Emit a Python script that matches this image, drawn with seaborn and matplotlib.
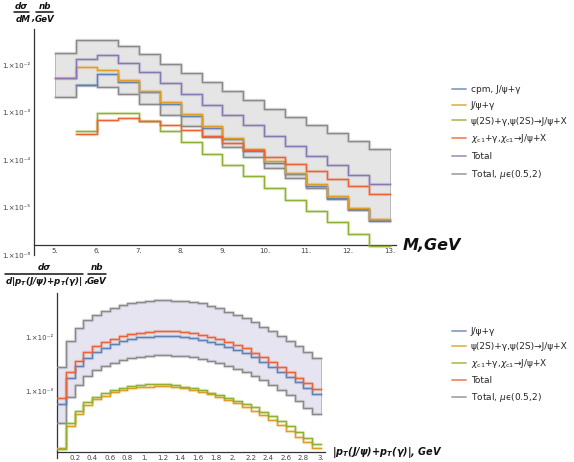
import numpy as np
import pandas as pd
import matplotlib
matplotlib.use("Agg")
import matplotlib.pyplot as plt
import matplotlib.ticker as mticker
import matplotlib.patheffects as pe
from matplotlib.lines import Line2D
import seaborn as sns

sns.set_theme(style="white")
plt.rcParams['font.family'] = ['DejaVu Sans']
plt.rcParams['mathtext.fontset'] = 'custom'
plt.rcParams['mathtext.rm'] = 'DejaVu Sans'
plt.rcParams['mathtext.it'] = 'DejaVu Sans:italic'
plt.rcParams['mathtext.bf'] = 'DejaVu Sans:bold:italic'

nan = np.nan
# ---------------- top panel: d sigma / dM ----------------
m_edges = [5.0, 5.5, 6.0, 6.5, 7.0, 7.5, 8.0, 8.5, 9.0, 9.5, 10.0, 10.5, 11.0, 11.5, 12.0, 12.5, 13.0]
m_cpm = [nan, 3.79e-3, 6.68e-3, 4.38e-3, 2.69e-3, 1.50e-3, 8.5e-4, 4.85e-4, 2.84e-4, 1.53e-4,
         8.56e-5, 5.09e-5, 2.84e-5, 1.59e-5, 9.16e-6, 5.12e-6]
m_jpsi = [5.50e-3, 9.21e-3, 7.84e-3, 4.99e-3, 2.87e-3, 1.68e-3, 9.39e-4, 5.24e-4, 2.99e-4, 1.69e-4,
          9.43e-5, 5.45e-5, 3.09e-5, 1.78e-5, 9.95e-6, 5.83e-6]
m_psi2s = [nan, 4.05e-4, 1.005e-3, 9.71e-4, 6.75e-4, 4.15e-4, 2.46e-4, 1.37e-4, 7.77e-5, 4.62e-5,
           2.58e-5, 1.47e-5, 8.31e-6, 4.94e-6, 2.72e-6, 1.56e-6]
m_chic1 = [nan, 3.59e-4, 7.08e-4, 7.81e-4, 6.81e-4, 5.50e-4, 4.25e-4, 3.23e-4, 2.30e-4, 1.67e-4,
           1.19e-4, 8.27e-5, 5.80e-5, 4.07e-5, 2.80e-5, 1.90e-5]
m_total = [5.50e-3, 1.358e-2, 1.626e-2, 1.118e-2, 7.12e-3, 4.23e-3, 2.53e-3, 1.482e-3, 8.81e-4, 5.42e-4,
           3.29e-4, 1.974e-4, 1.244e-4, 7.77e-5, 4.94e-5, 3.09e-5]
m_total_hi = [1.82e-2, 3.37e-2, 3.37e-2, 2.55e-2, 1.71e-2, 1.086e-2, 6.88e-3, 4.44e-3, 2.86e-3, 1.83e-3,
              1.22e-3, 8.08e-4, 5.42e-4, 3.71e-4, 2.53e-4, 1.75e-4]
m_total_lo = [2.14e-3, 3.79e-3, 3.49e-3, 2.45e-3, 1.50e-3, 8.81e-4, 5.17e-4, 3.13e-4, 1.89e-4, 1.16e-4,
              6.95e-5, 4.19e-5, 2.58e-5, 1.54e-5, 9.03e-6, 5.37e-6]
m_ticks = [5, 6, 7, 8, 9, 10, 11, 12, 13]
m_ticklabels = ["5.", "6.", "7.", "8.", "9.", "10.", "11.", "12.", "13."]
top_labels = ["cpm, J/ψ+γ", "J/ψ+γ", "ψ(2S)+γ,ψ(2S)→J/ψ+X",
              r"$\chi_{\rm c1}$+γ,$\chi_{\rm c1}$→J/ψ+X", "Total", r"Total, $\mu$ϵ(0.5,2)"]

# ---------------- bottom panel: d sigma / d|pT| ----------------
pt_edges = [0.0, 0.1, 0.2, 0.3, 0.4, 0.5, 0.6, 0.7, 0.8, 0.9, 1.0, 1.1, 1.2, 1.3, 1.4, 1.5,
            1.6, 1.7, 1.8, 1.9, 2.0, 2.1, 2.2, 2.3, 2.4, 2.5, 2.6, 2.7, 2.8, 2.9, 3.0]
pt_jpsi = [5.97e-4, 1.774e-3, 2.97e-3, 4.21e-3, 5.41e-3, 6.38e-3, 7.46e-3, 8.45e-3, 9.20e-3, 9.88e-3,
           1.012e-2, 1.042e-2, 1.042e-2, 1.030e-2, 1.012e-2, 9.46e-3, 8.82e-3, 8.21e-3, 7.36e-3, 6.58e-3,
           5.81e-3, 5.06e-3, 4.28e-3, 3.56e-3, 2.88e-3, 2.34e-3, 1.897e-3, 1.50e-3, 1.167e-3, 9.08e-4]
pt_psi2s = [9.4e-5, 2.36e-4, 4.03e-4, 5.87e-4, 7.36e-4, 8.57e-4, 9.88e-4, 1.087e-3, 1.167e-3, 1.216e-3,
            1.247e-3, 1.271e-3, 1.271e-3, 1.233e-3, 1.167e-3, 1.087e-3, 1.012e-3, 9.08e-4, 8.22e-4, 7.16e-4,
            6.24e-4, 5.41e-4, 4.57e-4, 3.82e-4, 3.10e-4, 2.51e-4, 1.977e-4, 1.538e-4, 1.247e-4, 9.46e-5]
pt_chic1 = [9.2e-5, 2.77e-4, 4.52e-4, 6.67e-4, 8.02e-4, 9.46e-4, 1.087e-3, 1.197e-3, 1.285e-3, 1.340e-3,
            1.380e-3, 1.398e-3, 1.380e-3, 1.340e-3, 1.247e-3, 1.167e-3, 1.074e-3, 9.70e-4, 8.82e-4, 7.87e-4,
            6.95e-4, 6.12e-4, 5.27e-4, 4.39e-4, 3.66e-4, 2.97e-4, 2.41e-4, 1.897e-4, 1.476e-4, 1.135e-4]
pt_total = [7.67e-4, 2.28e-3, 3.66e-3, 5.41e-3, 6.86e-3, 8.01e-3, 9.08e-3, 1.042e-2, 1.119e-2, 1.196e-2,
            1.247e-2, 1.303e-2, 1.303e-2, 1.285e-2, 1.247e-2, 1.167e-2, 1.086e-2, 1.012e-2, 9.08e-3, 8.01e-3,
            7.16e-3, 6.24e-3, 5.19e-3, 4.28e-3, 3.47e-3, 2.88e-3, 2.28e-3, 1.82e-3, 1.439e-3, 1.119e-3]
pt_total_hi = [2.88e-3, 8.57e-3, 1.439e-2, 2.04e-2, 2.51e-2, 3.01e-2, 3.41e-2, 3.82e-2, 4.10e-2, 4.39e-2,
               4.57e-2, 4.71e-2, 4.71e-2, 4.57e-2, 4.51e-2, 4.39e-2, 4.10e-2, 3.71e-2, 3.41e-2, 2.88e-2,
               2.50e-2, 2.19e-2, 1.90e-2, 1.54e-2, 1.285e-2, 1.057e-2, 8.57e-3, 6.86e-3, 5.41e-3, 4.21e-3]
pt_total_lo = [2.70e-4, 8.22e-4, 1.340e-3, 1.977e-3, 2.51e-3, 2.97e-3, 3.41e-3, 3.82e-3, 4.10e-3, 4.39e-3,
               4.52e-3, 4.65e-3, 4.65e-3, 4.57e-3, 4.52e-3, 4.28e-3, 3.98e-3, 3.66e-3, 3.33e-3, 2.97e-3,
               2.62e-3, 2.28e-3, 1.954e-3, 1.652e-3, 1.340e-3, 1.087e-3, 8.82e-4, 6.95e-4, 5.19e-4, 3.94e-4]
pt_ticks = [0.2, 0.4, 0.6, 0.8, 1.0, 1.2, 1.4, 1.6, 1.8, 2.0, 2.2, 2.4, 2.6, 2.8, 3.0]
pt_ticklabels = ["0.2", "0.4", "0.6", "0.8", "1.", "1.2", "1.4", "1.6", "1.8", "2.",
                 "2.2", "2.4", "2.6", "2.8", "3."]
bot_labels = ["J/ψ+γ", "ψ(2S)+γ,ψ(2S)→J/ψ+X", r"$\chi_{\rm c1}$+γ,$\chi_{\rm c1}$→J/ψ+X",
              "Total", r"Total, $\mu$ϵ(0.5,2)"]

BLUE, ORANGE, GREEN, RED, PURPLE, GRAY = "#5E81B5", "#E19C24", "#8FB032", "#EB6235", "#8778B3", "#8a8a8a"

W, H = 574, 462
fig = plt.figure(figsize=(W / 100, H / 100), dpi=100)


def px(x, y):
    return x / W, 1 - y / H


def step_line(ax, edges, vals, color, lw=1.0, z=3):
    e = np.asarray(edges, float)
    v = np.asarray(vals, float)
    idx = np.where(~np.isnan(v))[0]
    i0, i1 = idx[0], idx[-1]
    df = pd.DataFrame({"x": e[i0:i1 + 2], "y": np.append(v[i0:i1 + 1], v[i1])})
    sns.lineplot(data=df, x="x", y="y", ax=ax, color=color, lw=lw, drawstyle="steps-post",
                 estimator=None, sort=False, zorder=z,
                 path_effects=[pe.Stroke(linewidth=lw + 1.4, foreground=color, alpha=0.25), pe.Normal()])


def band(ax, edges, lo, hi, fc, ec):
    e = np.asarray(edges, float)
    lo_ = np.append(lo, lo[-1])
    hi_ = np.append(hi, hi[-1])
    ax.fill_between(e, lo_, hi_, step="post", facecolor=fc, edgecolor=ec, lw=0.6, zorder=1)


def style_axes(ax, spine_y):
    for s in ["top", "right"]:
        ax.spines[s].set_visible(False)
    for s in ["left", "bottom"]:
        ax.spines[s].set_color("#333333")
        ax.spines[s].set_linewidth(0.9)
    ax.spines["bottom"].set_position(("data", spine_y))
    ax.set_yscale("log")
    ax.tick_params(which="both", direction="in", color="#333333", labelcolor="#444444", labelsize=5)
    ax.tick_params(which="major", length=4, width=0.8, pad=2.5)
    ax.tick_params(which="minor", length=2, width=0.6)
    ax.yaxis.set_minor_locator(mticker.LogLocator(base=10, subs=np.arange(2, 10)))
    ax.yaxis.set_minor_formatter(mticker.NullFormatter())
    ax.set_xlabel("")
    ax.set_ylabel("")
    ax.grid(False)
    ax.set_facecolor("none")


sup = {-2: "1.×10⁻²", -3: "1.×10⁻³", -4: "1.×10⁻⁴", -5: "1.×10⁻⁵", -6: "1.×10⁻⁶"}

# ---------------- top axes ----------------
ax1 = fig.add_axes([34 / W, 1 - 255 / H, (396 - 34) / W, (255 - 29) / H])
band(ax1, m_edges, m_total_lo, m_total_hi, "#e5e5e5", "#b0b0b0")
step_line(ax1, m_edges, m_total_hi, GRAY)
step_line(ax1, m_edges, m_total_lo, GRAY)
step_line(ax1, m_edges, m_cpm, BLUE)
step_line(ax1, m_edges, m_jpsi, ORANGE)
step_line(ax1, m_edges, m_psi2s, GREEN)
step_line(ax1, m_edges, m_chic1, RED)
step_line(ax1, m_edges, m_total, PURPLE)
style_axes(ax1, 1.63e-6)
ax1.set_xlim(4.5, 13.143)
ax1.set_ylim(1e-6, 10 ** -1.232)
ax1.set_xticks(m_ticks)
ax1.set_xticklabels(m_ticklabels)
ax1.xaxis.set_minor_locator(mticker.MultipleLocator(0.5))
ax1.set_yticks([1e-6, 1e-5, 1e-4, 1e-3, 1e-2])
ax1.set_yticklabels([sup[-6], sup[-5], sup[-4], sup[-3], sup[-2]])

# ---------------- bottom axes ----------------
ax2 = fig.add_axes([57 / W, 1 - 458 / H, (325 - 57) / W, (458 - 293) / H])
band(ax2, pt_edges, pt_total_lo, pt_total_hi, "#e6e4f0", "#b0b0b0")
step_line(ax2, pt_edges, pt_total_hi, GRAY)
step_line(ax2, pt_edges, pt_total_lo, GRAY)
step_line(ax2, pt_edges, pt_jpsi, BLUE)
step_line(ax2, pt_edges, pt_psi2s, ORANGE)
step_line(ax2, pt_edges, pt_chic1, GREEN)
step_line(ax2, pt_edges, pt_total, RED)
style_axes(ax2, 8.11e-5)
ax2.set_xlim(0, 3.045)
ax2.set_ylim(10 ** -4.2, 10 ** -1.2)
ax2.set_xticks(pt_ticks)
ax2.set_xticklabels(pt_ticklabels)
ax2.xaxis.set_minor_locator(mticker.MultipleLocator(0.1))
ax2.set_yticks([1e-4, 1e-3, 1e-2])
ax2.set_yticklabels(["", sup[-3], sup[-2]])

# ---------------- legends ----------------
leg_kw = dict(loc="upper left", frameon=False, fontsize=6.5, handlelength=1.55, handletextpad=0.55,
              borderpad=0, borderaxespad=0)
top_colors = [BLUE, ORANGE, GREEN, RED, PURPLE, GRAY]
h1 = [Line2D([], [], color=c, lw=1.3, alpha=0.75) for c in top_colors]
fig.legend(h1, top_labels, bbox_to_anchor=px(452, 85), labelspacing=0.75, **leg_kw)
bot_colors = [BLUE, ORANGE, GREEN, RED, GRAY]
h2 = [Line2D([], [], color=c, lw=1.3, alpha=0.75) for c in bot_colors]
fig.legend(h2, bot_labels, bbox_to_anchor=px(452, 327), labelspacing=0.66, **leg_kw)

# ---------------- axis labels ----------------
lab = dict(fontweight="bold", style="italic", color="#111111")
fig.text(*px(403, 245), "M,GeV", ha="left", va="center", fontsize=11.5, **lab)
fig.text(*px(332, 452), r"|$\mathbf{p_T}$(J/ψ)+$\mathbf{p_T}$(γ)|, GeV", ha="left", va="center",
         fontsize=7, **lab)

fs = 6.3
# top y label: dσ/dM , nb/GeV
fig.text(*px(21, 6.5), "dσ", ha="center", va="center", fontsize=fs, **lab)
fig.text(*px(23, 20), "dM", ha="center", va="center", fontsize=fs, **lab)
fig.text(*px(33, 19), ",", ha="center", va="center", fontsize=fs, **lab)
fig.text(*px(45, 6.5), "nb", ha="center", va="center", fontsize=fs, **lab)
fig.text(*px(45, 20), "GeV", ha="center", va="center", fontsize=fs, **lab)
fig.add_artist(Line2D([14 / W, 29 / W], [1 - 12 / H] * 2, color="#111111", lw=1.1))
fig.add_artist(Line2D([36 / W, 53 / W], [1 - 12 / H] * 2, color="#111111", lw=1.1))

# bottom y label: dσ/d|pT+pT| , nb/GeV
fig.text(*px(44, 268), "dσ", ha="center", va="center", fontsize=fs, **lab)
fig.text(*px(44, 281), r"d|$\mathbf{p_T}$(J/ψ)+$\mathbf{p_T}$(γ)|", ha="center", va="center",
         fontsize=fs, **lab)
fig.text(*px(86, 280), ",", ha="center", va="center", fontsize=fs, **lab)
fig.text(*px(97, 268), "nb", ha="center", va="center", fontsize=fs, **lab)
fig.text(*px(97, 281), "GeV", ha="center", va="center", fontsize=fs, **lab)
fig.add_artist(Line2D([5 / W, 83 / W], [1 - 274 / H] * 2, color="#111111", lw=1.1))
fig.add_artist(Line2D([88 / W, 106 / W], [1 - 274 / H] * 2, color="#111111", lw=1.1))

fig.savefig("out.png", dpi=100)
